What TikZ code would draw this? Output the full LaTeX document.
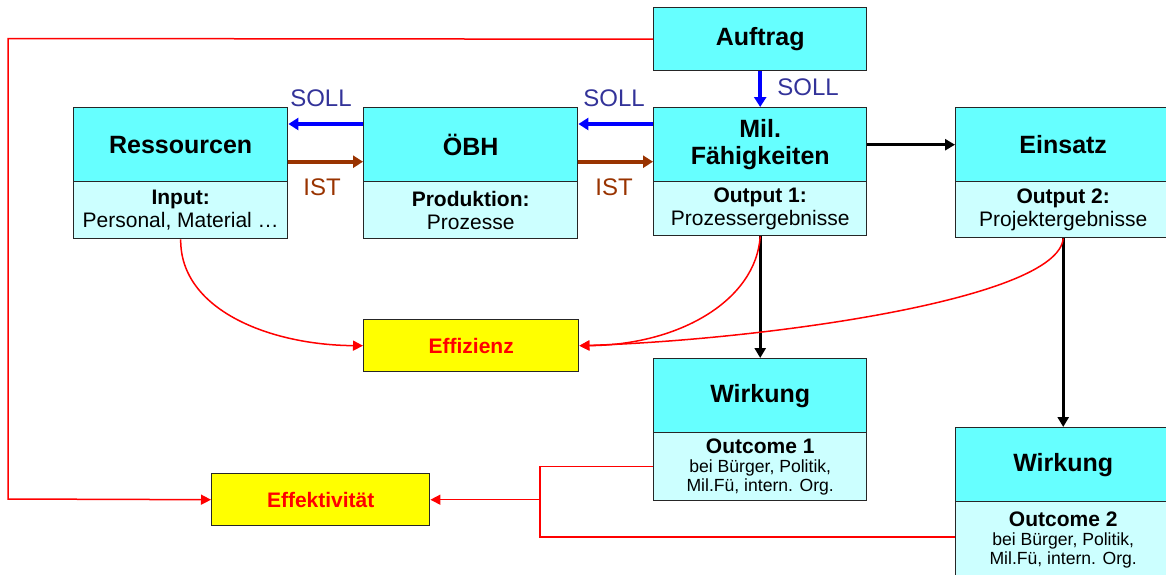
\documentclass[tikz,border=0pt]{standalone}
\usepackage{fontspec}
\setmainfont{Liberation Sans}
\usetikzlibrary{arrows.meta}
\definecolor{hcyan}{HTML}{66FFFF}
\definecolor{lcyan}{HTML}{CCFFFF}
\definecolor{yel}{HTML}{FFFF00}
\definecolor{sollblue}{HTML}{333399}
\definecolor{arrblue}{HTML}{0000FF}
\definecolor{istbrown}{HTML}{993300}
\definecolor{rd}{HTML}{FF0000}
\tikzset{
  boxbase/.style={draw=black!85, line width=0.7pt, inner sep=0pt, align=center, anchor=north west},
  hdr/.style={boxbase, fill=hcyan, font=\fontsize{12.5}{14}\selectfont\bfseries},
  low/.style={boxbase, fill=lcyan, font=\fontsize{10.5}{11.5}\selectfont},
  yb/.style={boxbase, fill=yel, text=rd, font=\fontsize{10.5}{12}\selectfont\bfseries},
  sollarr/.style={draw=arrblue, line width=1.8pt, -{Triangle[length=5pt,width=6pt]}},
  istarr/.style={draw=istbrown, line width=1.8pt, -{Triangle[length=5pt,width=6pt]}},
  blkarr/.style={draw=black, line width=1.6pt, -{Triangle[length=5pt,width=5.5pt]}},
  redarr/.style={draw=rd, line width=0.75pt, -{Triangle[length=5pt,width=5pt]}},
  redln/.style={draw=rd, line width=0.75pt},
  solltxt/.style={text=sollblue, font=\fontsize{12}{14}\selectfont},
  isttxt/.style={text=istbrown, font=\fontsize{12}{14}\selectfont},
}
\begin{document}
\begin{tikzpicture}[x=0.5pt,y=-0.5pt]
\useasboundingbox (0,0) rectangle (1166,574);
\clip (0,0) rectangle (1166,574);
% boxes
\node[hdr, minimum width=106.5pt, minimum height=31.5pt] (auf) at (653,7) {\raisebox{-1pt}{Auftrag}};

\node[hdr, minimum width=107pt, minimum height=37pt] (res) at (73,107) {Ressourcen};
\node[low, minimum width=107pt, minimum height=28.5pt] (resL) at (73,181) {\textbf{Input:}\\Personal, Material …};

\node[hdr, minimum width=107pt, minimum height=37pt] (obh) at (363,107) {ÖBH};
\node[low, minimum width=107pt, minimum height=28.5pt] (obhL) at (363,181) {\textbf{Produktion:}\\Prozesse};

\node[hdr, minimum width=106.5pt, minimum height=37pt, font=\fontsize{12.5}{13.5}\selectfont\bfseries] (mil) at (653,107) {Mil.\\Fähigkeiten};
\node[low, minimum width=106.5pt, minimum height=27pt] (milL) at (653,181) {\textbf{Output 1:}\\Prozessergebnisse};

\node[hdr, minimum width=107.5pt, minimum height=37pt] (ein) at (955,107) {Einsatz};
\node[low, minimum width=107.5pt, minimum height=28pt] (einL) at (955,181) {\textbf{Output 2:}\\Projektergebnisse};

\node[yb, minimum width=107.5pt, minimum height=26pt] (eff) at (363,319) {Effizienz};

\node[hdr, minimum width=106.5pt, minimum height=37pt] (w1) at (653,358) {Wirkung};
\node[low, minimum width=106.5pt, minimum height=34pt, font=\fontsize{8.8}{9.6}\selectfont] (w1L) at (653,432) {\fontsize{10.5}{11}\selectfont\textbf{Outcome 1}\\bei Bürger, Politik,\\Mil.Fü, intern. Org.};

\node[hdr, minimum width=107.5pt, minimum height=37pt] (w2) at (955,427) {Wirkung};
\node[low, minimum width=107.5pt, minimum height=38.5pt, font=\fontsize{8.8}{9.6}\selectfont] (w2L) at (955,501) {\fontsize{10.5}{11}\selectfont\textbf{Outcome 2}\\bei Bürger, Politik,\\Mil.Fü, intern. Org.};

\node[yb, minimum width=109pt, minimum height=26pt] (effk) at (211,473) {Effektivität};

% helper coordinates
\coordinate (ys) at (0,124);
\coordinate (yi) at (0,161.7);
\coordinate (lx) at (8,38.5);
\coordinate (ly) at (8,499);
\coordinate (j1) at (540,0);
\coordinate (yo2) at (0,537);

% SOLL / IST arrows
\draw[sollarr] (mil.west |- ys) -- (obh.east |- ys);
\draw[sollarr] (obh.west |- ys) -- (res.east |- ys);
\draw[istarr] (res.east |- yi) -- (obh.west |- yi);
\draw[istarr] (obh.east |- yi) -- (mil.west |- yi);
\draw[sollarr] (auf.south) -- (mil.north);

\node[solltxt] (s1) at (321,98) {SOLL};
\node[isttxt] (i1) at (322,187) {IST};
\node[solltxt] (s2) at (614,98) {SOLL};
\node[isttxt] (i2) at (614,187) {IST};
\node[solltxt] (s3) at (808,87) {SOLL};

% black arrows
\draw[blkarr] (mil.east) -- (ein.west);
\draw[blkarr] (milL.south) -- (w1.north);
\draw[blkarr] (einL.south) -- (w2.north);

% red efficiency curves
\draw[redarr] (resL.south) .. controls (180,310) and (270,345) .. (eff.west);
\draw[redarr] (milL.south) .. controls (756,300) and (680,345) .. (eff.east);
\draw[redarr] (einL.south) .. controls (1058,300) and (760,340) .. (eff.east);

% red effectiveness lines
\draw[redarr] (auf.west) -- (lx) -- (ly) -- (effk.west);
\draw[redln] (w1L.west) -- (j1 |- w1L.west) -- (j1 |- yo2) -- (w2L.west |- yo2);
\draw[redarr] (j1 |- effk.east) -- (effk.east);
\end{tikzpicture}
\end{document}
